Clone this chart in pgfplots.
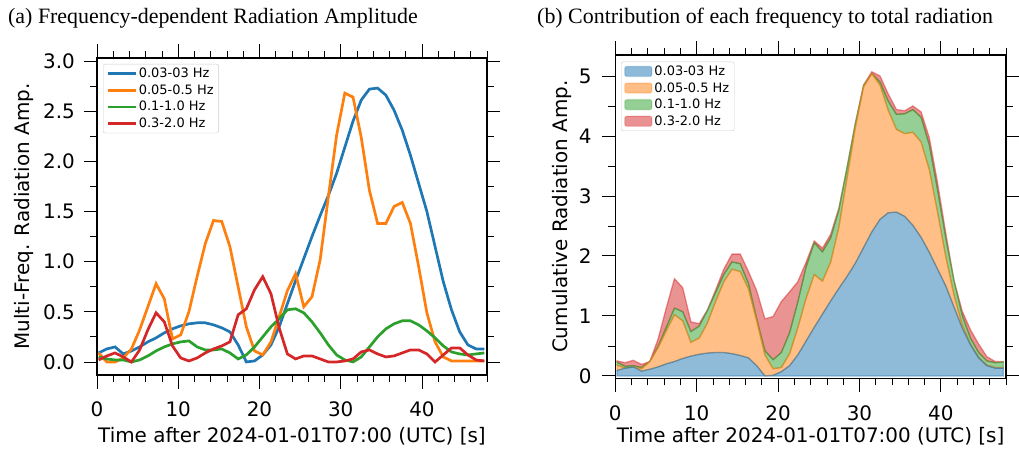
\documentclass[border=0pt]{standalone}
\usepackage{fontspec}
\setmainfont{Liberation Serif}
\setsansfont{DejaVu Sans}
\usepackage{pgfplots}
\usepackage{pgfplotstable}
\pgfplotsset{compat=1.18}

\definecolor{tabblue}{HTML}{1F77B4}
\definecolor{taborange}{HTML}{FF7F0E}
\definecolor{tabgreen}{HTML}{2CA02C}
\definecolor{tabred}{HTML}{D62728}

% amplitude per band: b1 0.03-03, b2 0.05-0.5, b3 0.1-1.0, b4 0.3-2.0 Hz
\pgfplotstableread{
t     b1   b2   b3   b4
0.20  0.09 0.09 0.05 0.02
1.21  0.13 0.00 0.03 0.06
2.22  0.15 0.00 0.02 0.09
3.23  0.08 0.04 0.02 0.05
4.24  0.11 0.13 0.00 0.00
5.25  0.15 0.32 0.02 0.12
6.26  0.20 0.55 0.06 0.32
7.27  0.24 0.78 0.11 0.49
8.28  0.29 0.63 0.15 0.40
9.29  0.33 0.23 0.18 0.16
10.30 0.36 0.27 0.20 0.04
11.31 0.38 0.50 0.21 0.01
12.32 0.39 0.85 0.15 0.04
13.33 0.39 1.18 0.12 0.09
14.34 0.37 1.41 0.12 0.13
15.35 0.34 1.40 0.13 0.16
16.36 0.30 1.15 0.09 0.20
17.37 0.17 0.75 0.03 0.47
18.38 0.00 0.35 0.07 0.53
19.39 0.01 0.11 0.15 0.72
20.40 0.07 0.07 0.25 0.85
21.41 0.17 0.20 0.35 0.68
22.42 0.35 0.45 0.43 0.34
23.43 0.58 0.71 0.52 0.08
24.44 0.81 0.88 0.53 0.03
25.45 1.03 0.55 0.49 0.06
26.46 1.25 0.65 0.40 0.06
27.47 1.46 1.02 0.29 0.03
28.48 1.66 1.65 0.17 0.00
29.49 1.88 2.26 0.07 0.00
30.50 2.14 2.68 0.02 0.01
31.51 2.40 2.64 0.00 0.03
32.52 2.61 2.24 0.05 0.10
33.53 2.72 1.71 0.15 0.12
34.54 2.73 1.38 0.25 0.08
35.55 2.66 1.38 0.33 0.05
36.56 2.51 1.55 0.38 0.06
37.57 2.31 1.59 0.41 0.09
38.58 2.06 1.38 0.41 0.12
39.59 1.78 0.95 0.37 0.12
40.60 1.50 0.49 0.31 0.08
41.61 1.15 0.20 0.24 0.00
42.62 0.80 0.05 0.16 0.07
43.63 0.52 0.01 0.10 0.14
44.64 0.30 0.01 0.08 0.14
45.65 0.17 0.01 0.07 0.07
46.66 0.13 0.01 0.08 0.02
47.67 0.13 0.01 0.09 0.01
}\amp

\pgfplotsset{
  radpanel/.style={
    scale only axis,
    xmin=0, xmax=48,
    xtick={0,10,20,30,40},
    minor xtick={2,4,6,8,12,14,16,18,22,24,26,28,32,34,36,38,42,44,46,48},
    tick align=outside,
    major tick length=13.5bp,
    minor tick length=7bp,
    major tick style={line width=0.9bp,black},
    minor tick style={line width=0.8bp,black},
    axis line style={line width=1.2bp},
    tick label style={font=\sffamily\fontsize{20}{24}\selectfont},
    label style={font=\sffamily\fontsize{20}{24}\selectfont},
    xticklabel style={anchor=north,inner sep=0pt,yshift=-13.5bp},
    /pgf/number format/assume math mode=true,
    xlabel={Time after 2024-01-01T07:00 (UTC) [s]},
    legend cell align=left,
    legend style={at={(0,1)},anchor=north west,
      draw=black!20,rounded corners=2bp,
      row sep=1.5bp,
      font=\sffamily\fontsize{13}{15}\selectfont},
  },
}

\begin{document}
\begin{tikzpicture}
\path[use as bounding box] (0,0) rectangle (1019bp,449bp);

\node[anchor=base west,inner sep=0pt,font=\fontsize{22}{26}\selectfont] at (8bp,425bp) {(a) Frequency-dependent Radiation Amplitude};
\node[anchor=base west,inner sep=0pt,font=\fontsize{22}{26}\selectfont] at (537bp,425bp) {(b) Contribution of each frequency to total radiation};

\begin{axis}[radpanel,
  at={(97bp,74bp)},anchor=south west,
  width=390bp,height=317bp,
  ymin=-0.13,ymax=3.03,
  ytick={0,0.5,...,3},
  minor ytick={0.25,0.75,...,2.75},
  yticklabel style={anchor=east,inner sep=0pt,xshift=-8.5bp,
    /pgf/number format/.cd,fixed,fixed zerofill,precision=1},
  ylabel={Multi-Freq. Radiation Amp.},
  ylabel style={at={(axis description cs:-0.1615,0.5)},anchor=south,inner sep=0pt},
  xlabel style={at={(axis description cs:0.5,-0.2145)},anchor=base,inner sep=0pt},
  legend style={xshift=6bp,yshift=-6bp},
  legend image code/.code={\draw[#1,line width=2.7bp] (0bp,0bp) -- (28bp,0bp);},
]
\addplot[tabblue,line width=2.7bp] table[x=t,y=b1]{\amp};
\addplot[taborange,line width=2.7bp] table[x=t,y=b2]{\amp};
\addplot[tabgreen,line width=2.7bp] table[x=t,y=b3]{\amp};
\addplot[tabred,line width=2.7bp] table[x=t,y=b4]{\amp};
\legend{0.03-03 Hz,0.05-0.5 Hz,0.1-1.0 Hz,0.3-2.0 Hz}
\end{axis}

\begin{axis}[radpanel,
  at={(615.3bp,70.7bp)},anchor=south west,
  width=390.7bp,height=323.3bp,
  ymin=-0.04,ymax=5.35,
  ytick={0,1,...,5},
  minor ytick={0.5,1.5,...,4.5},
  yticklabel style={anchor=east,inner sep=0pt,xshift=-10bp},
  ylabel={Cumulative Radiation Amp.},
  ylabel style={at={(axis description cs:-0.1108,0.5)},anchor=south,inner sep=0pt},
  xlabel style={at={(axis description cs:0.5,-0.2001)},anchor=base,inner sep=0pt},
  legend style={xshift=5.7bp,yshift=-6.7bp},
  legend image code/.code={\fill[#1,draw opacity=0.25] (0bp,-5bp) rectangle (27bp,5bp);},
  stack plots=y,
]
\addplot[draw=tabblue,fill=tabblue,fill opacity=0.5,draw opacity=0.5,line width=1.3bp] table[x=t,y=b1]{\amp} \closedcycle;
\addplot[draw=taborange,fill=taborange,fill opacity=0.5,draw opacity=0.5,line width=1.3bp] table[x=t,y=b2]{\amp} \closedcycle;
\addplot[draw=tabgreen,fill=tabgreen,fill opacity=0.5,draw opacity=0.5,line width=1.3bp] table[x=t,y=b3]{\amp} \closedcycle;
\addplot[draw=tabred,fill=tabred,fill opacity=0.5,draw opacity=0.5,line width=1.3bp] table[x=t,y=b4]{\amp} \closedcycle;
\legend{0.03-03 Hz,0.05-0.5 Hz,0.1-1.0 Hz,0.3-2.0 Hz}
\end{axis}
\end{tikzpicture}
\end{document}
